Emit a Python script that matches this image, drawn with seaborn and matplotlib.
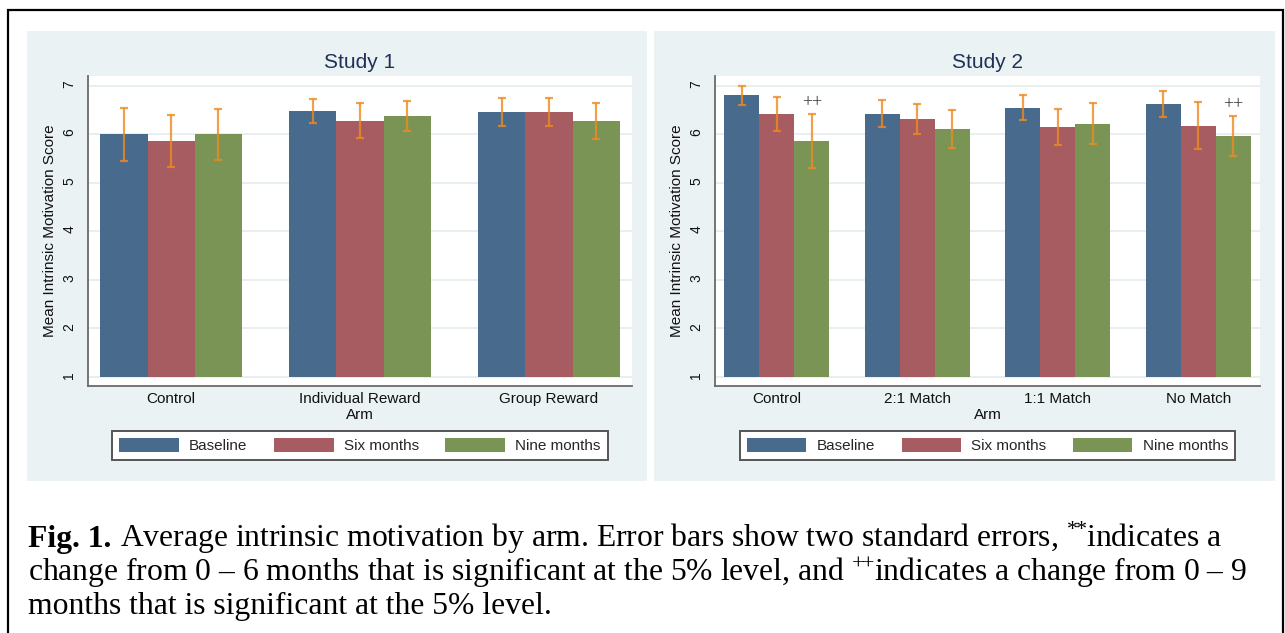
import matplotlib
matplotlib.use("Agg")
import matplotlib.pyplot as plt
from matplotlib.patches import Rectangle, Patch
import numpy as np
import pandas as pd
import seaborn as sns

# ---- data -------------------------------------------------------------
waves = ["Baseline", "Six months", "Nine months"]
wave_colors = ["#486A8C", "#A65C61", "#7A9456"]

study1_arms = ["Control", "Individual Reward", "Group Reward"]
study1_baseline = [6.00, 6.48, 6.46]
study1_six = [5.86, 6.28, 6.46]
study1_nine = [6.00, 6.37, 6.28]
study1_baseline_2se = [0.55, 0.25, 0.295]
study1_six_2se = [0.54, 0.36, 0.285]
study1_nine_2se = [0.53, 0.305, 0.37]
study1_nine_marks = ["", "", ""]

study2_arms = ["Control", "2:1 Match", "1:1 Match", "No Match"]
study2_baseline = [6.80, 6.42, 6.55, 6.62]
study2_six = [6.42, 6.31, 6.15, 6.17]
study2_nine = [5.86, 6.11, 6.22, 5.97]
study2_baseline_2se = [0.19, 0.28, 0.25, 0.27]
study2_six_2se = [0.355, 0.315, 0.365, 0.485]
study2_nine_2se = [0.55, 0.395, 0.415, 0.41]
study2_nine_marks = ["++", "", "", "++"]

y_ticks = [1, 2, 3, 4, 5, 6, 7]

# ---- style ------------------------------------------------------------
sns.set_style("white")
plt.rcParams["font.family"] = ["Liberation Sans", "DejaVu Sans"]
plt.rcParams["mathtext.fontset"] = "custom"
plt.rcParams["mathtext.rm"] = "Liberation Serif"
plt.rcParams["mathtext.bf"] = "Liberation Serif:bold"
plt.rcParams["mathtext.it"] = "Liberation Serif:italic"

W, H = 1285, 633
fig = plt.figure(figsize=(W / 100, H / 100), dpi=100)
fig.patch.set_facecolor("white")

PANEL = "#EAF2F3"
AXIS = "#6A6A6A"
ERR = "#EE8A1E"


def px_rect(x0, y0, x1, y1):
    """Rectangle in figure fraction from pixel corners (y measured from top)."""
    return (x0 / W, 1 - y1 / H), (x1 - x0) / W, (y1 - y0) / H


# light panels behind each graph
for x0, x1 in [(27, 647), (654, 1275)]:
    xy, w, h = px_rect(x0, 31, x1, 481)
    fig.patches.append(Rectangle(xy, w, h, transform=fig.transFigure,
                                 facecolor=PANEL, edgecolor="none", zorder=-2))

# outer frame (open at the bottom edge of the image)
xy, w, h = px_rect(8, 10, 1283, 660)
fig.patches.append(Rectangle(xy, w, h, transform=fig.transFigure, fill=False,
                             edgecolor="black", linewidth=1.6, zorder=5))


def draw_study(rect, title, arms, means, errs, marks):
    ax = fig.add_axes(rect)
    ax.set_facecolor("white")
    rows = []
    for wave, vals in zip(waves, means):
        for arm, v in zip(arms, vals):
            rows.append({"Arm": arm, "wave": wave, "score": v})
    df = pd.DataFrame(rows)
    sns.barplot(data=df, x="Arm", y="score", hue="wave", order=arms,
                hue_order=waves, palette=wave_colors, width=0.75,
                saturation=1, errorbar=None, linewidth=0, legend=False,
                ax=ax, zorder=2)
    bar_sets = list(ax.containers)

    # bars rise from the bottom of the scale (1), not from zero
    for cont, vals, se in zip(bar_sets, means, errs):
        xs = []
        for bar in cont:
            top = bar.get_height()
            bar.set_y(1)
            bar.set_height(top - 1)
            xs.append(bar.get_x() + bar.get_width() / 2)
        ax.errorbar(xs, vals, yerr=se, fmt="none", ecolor=ERR, alpha=0.8,
                    elinewidth=1.6, capsize=2.9, capthick=1.6, zorder=3)

    # significance marks over the nine-month bars
    for bar, v, se, m in zip(bar_sets[-1], means[-1], errs[-1], marks):
        if m:
            ax.text(bar.get_x() + bar.get_width() / 2, v + se + 0.24, m,
                    ha="center", va="center", fontsize=13,
                    family="Liberation Serif", color="#333333", zorder=4)

    n = len(arms)
    ax.set_xlim(-0.44, n - 1 + 0.44)
    ax.set_ylim(0.81, 7.2)
    ax.set_yticks(y_ticks)
    ax.yaxis.grid(True, color="#E6EEF0", linewidth=1.3)
    ax.set_axisbelow(True)
    for s in ["top", "right"]:
        ax.spines[s].set_visible(False)
    for s in ["left", "bottom"]:
        ax.spines[s].set_color(AXIS)
        ax.spines[s].set_linewidth(1.3)
    ax.tick_params(axis="y", length=4.3, width=1, color=AXIS, labelsize=10,
                   labelrotation=90, pad=4, labelcolor="#111111")
    ax.tick_params(axis="x", length=0, labelsize=11, pad=4,
                   labelcolor="#111111")
    ax.set_title(title, fontsize=15, color="#1F3156", pad=6)
    ax.set_xlabel("Arm", fontsize=11, labelpad=2, color="#111111")
    ax.set_ylabel("Mean Intrinsic Motivation Score", fontsize=11,
                  labelpad=4, color="#111111")

    handles = [Patch(facecolor=c, edgecolor="none") for c in wave_colors]
    cx = rect[0] + rect[2] / 2
    leg = ax.legend(handles, waves, loc="upper center",
                    bbox_to_anchor=(cx, 1 - 431 / H),
                    bbox_transform=fig.transFigure, ncol=3, fontsize=11,
                    frameon=True, fancybox=False, framealpha=1,
                    edgecolor="#555555", borderpad=0.46, handlelength=3.9,
                    handleheight=0.98, handletextpad=0.67,
                    columnspacing=1.73, borderaxespad=0)
    leg.get_frame().set_linewidth(1.4)
    return ax


ax_bottom = 1 - 386 / H
ax_height = (386 - 76) / H
draw_study([88 / W, ax_bottom, 544 / W, ax_height], "Study 1", study1_arms,
           [study1_baseline, study1_six, study1_nine],
           [study1_baseline_2se, study1_six_2se, study1_nine_2se],
           study1_nine_marks)
draw_study([715 / W, ax_bottom, 545 / W, ax_height], "Study 2", study2_arms,
           [study2_baseline, study2_six, study2_nine],
           [study2_baseline_2se, study2_six_2se, study2_nine_2se],
           study2_nine_marks)

# caption
CAP_SIZE = 22.8
cap_kw = dict(fontsize=CAP_SIZE, family="Liberation Serif", color="black",
              ha="left", va="baseline", transform=fig.transFigure)
x0 = 28.5 / W
label = fig.text(x0, 1 - 547 / H, "Fig. 1.", weight="bold", **cap_kw)
fig.canvas.draw()
gap = 0.25 * CAP_SIZE * fig.dpi / 72
x_after = (label.get_window_extent().x1 + gap) / W
fig.text(x_after, 1 - 547 / H,
         r"Average intrinsic motivation by arm. Error bars show two standard "
         r"errors, $^{*\!\!*}\!$indicates a", **cap_kw)
fig.text(x0, 1 - 580.5 / H,
         r"change from 0 – 6 months that is significant at the 5% level, and "
         r"$^{+\!\!+}\!$indicates a change from 0 – 9", **cap_kw)
fig.text(x0, 1 - 614 / H,
         "months that is significant at the 5% level.", **cap_kw)

fig.savefig("out.png", dpi=100, facecolor="white")
